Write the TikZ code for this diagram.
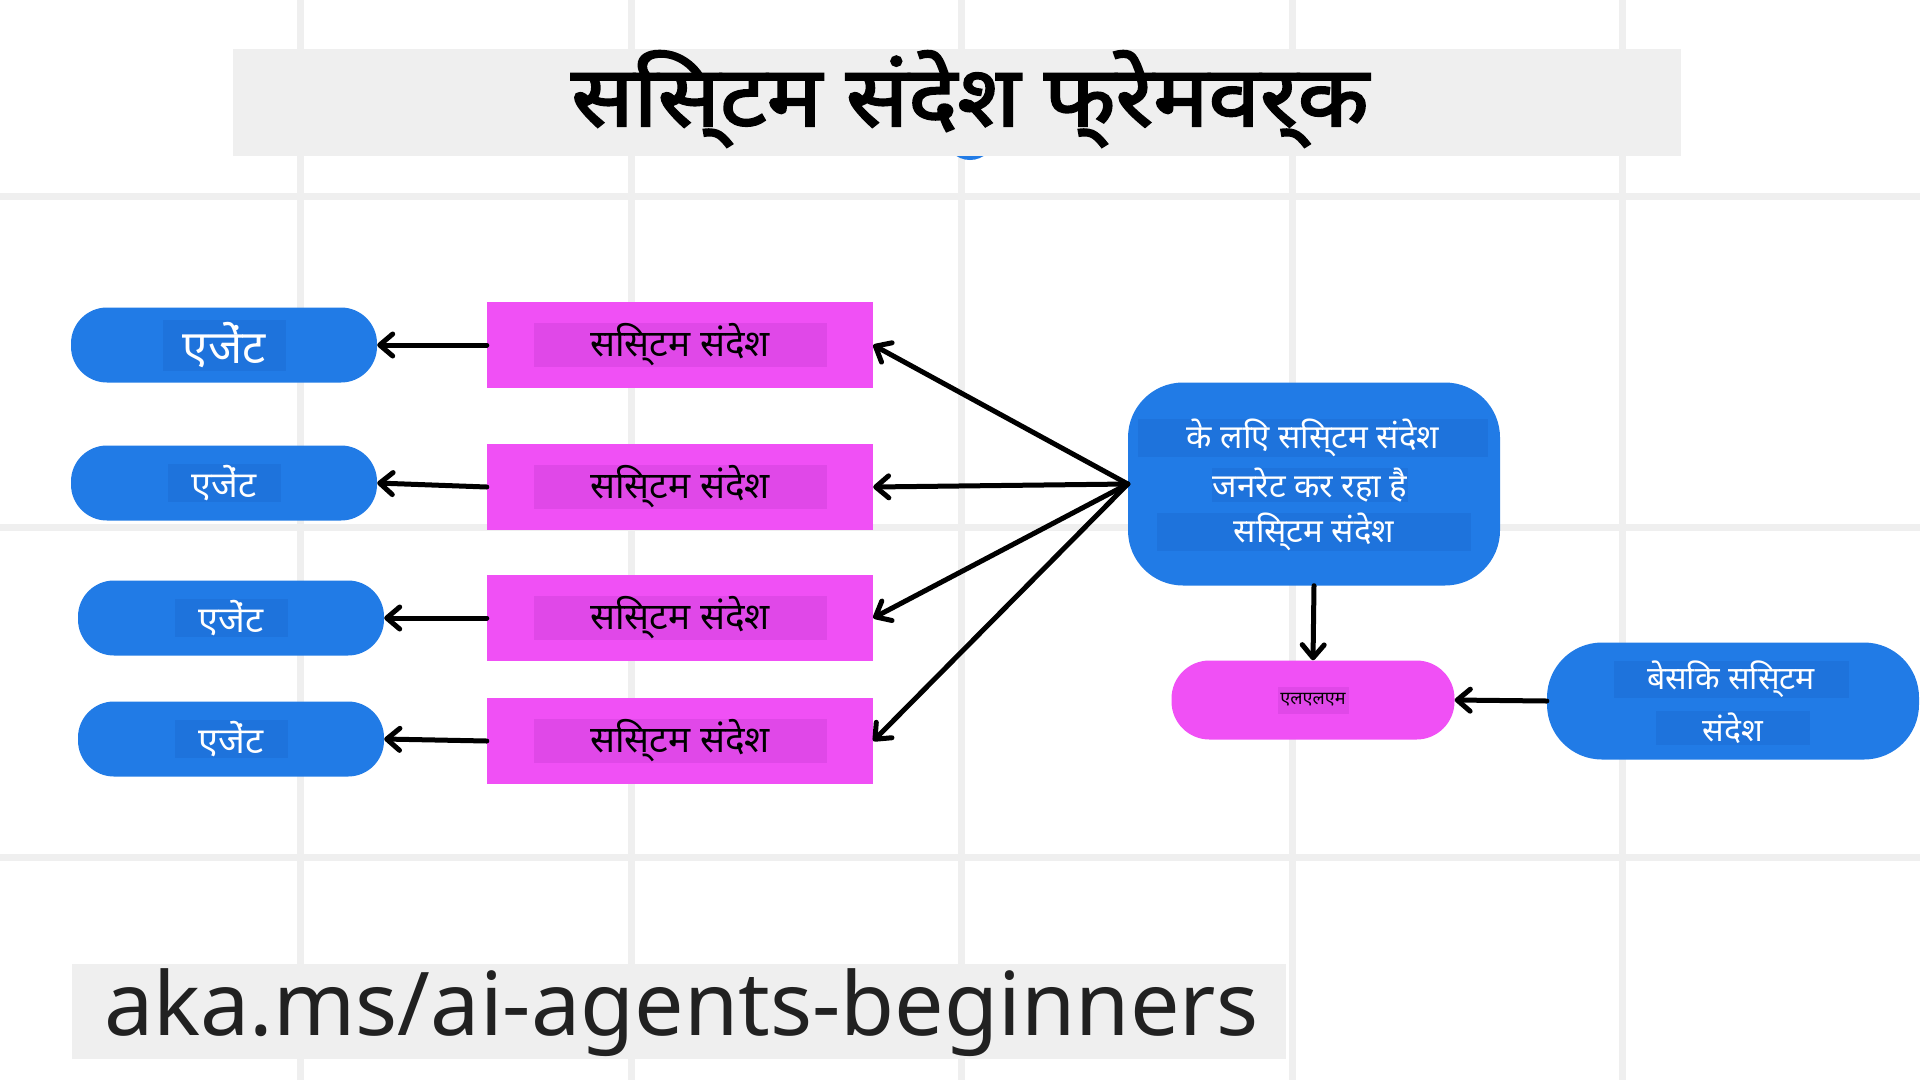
\documentclass[tikz,border=0pt]{standalone}
\usepackage{fontspec}
\setmainfont{Noto Sans}
\newfontfamily\hindi{Noto Sans}
\newfontfamily\hinditl[FakeBold=2.5,FakeStretch=1.1]{Noto Sans}
\usetikzlibrary{arrows.meta,positioning}
\definecolor{agentblue}{HTML}{217BE6}
\definecolor{lblblue}{HTML}{1E73DC}
\definecolor{msgpink}{HTML}{F050F5}
\definecolor{lblpink}{HTML}{E048E8}
\definecolor{gridgray}{HTML}{EFEFEF}
\tikzset{
  agent/.style={fill=agentblue, rounded corners=36pt, minimum width=306pt, minimum height=75pt},
  msgbox/.style={fill=msgpink, minimum width=386pt, minimum height=86pt},
  bluelbl/.style={fill=lblblue, text=white, font=\hindi\fontsize{36}{40}\selectfont, inner sep=0pt},
  pinklbl/.style={fill=lblpink, text=black, font=\hindi\fontsize{37}{42}\selectfont, inner sep=0pt},
  arr/.style={line width=5pt, line cap=round, -{Straight Barb[length=13pt,width=22pt,line width=5pt,round]}},
}
\begin{document}
\begin{tikzpicture}[x=1pt,y=-1pt]
		%%%%% START %%%%%
		\useasboundingbox (0,0) rectangle (1920,1080);
		\fill[white] (0,0) rectangle (1920,1080);
		
		% grid
		\foreach \gx in {300,631,961,1292,1622}
		  \draw[gridgray, line width=7pt] (\gx,0) -- (\gx,1080);
		\foreach \gy in {196,527,857}
		  \draw[gridgray, line width=7pt] (0,\gy) -- (1920,\gy);
		
		% title
		\fill[agentblue] (970,135) circle (25);
		\fill[gridgray] (233,49) rectangle (1681,156);
		\node[anchor=base, font=\hinditl\fontsize{84}{90}\selectfont] (title) at (970,126) {सिस्टम संदेश फ्रेमवर्क};
		
		% agents
		\node[agent] (ag1) at (224,345) {};
		\node[agent] (ag2) at (224,483) {};
		\node[agent] (ag3) at (231,618) {};
		\node[agent] (ag4) at (231,739) {};
		\node[bluelbl, minimum width=123pt, minimum height=51pt, font=\hindi\fontsize{46}{50}\selectfont] (ag1t) at (ag1) {एजेंट};
		\node[bluelbl, minimum width=113pt, minimum height=38pt] (ag2t) at (ag2) {एजेंट};
		\node[bluelbl, minimum width=113pt, minimum height=38pt] (ag3t) at (ag3) {एजेंट};
		\node[bluelbl, minimum width=113pt, minimum height=38pt] (ag4t) at (ag4) {एजेंट};
		
		% system messages
		\node[msgbox] (b1) at (680,345) {};
		\node[msgbox] (b2) at (680,487) {};
		\node[msgbox] (b3) at (680,618) {};
		\node[msgbox] (b4) at (680,741) {};
		\foreach \b in {b1,b2,b3,b4}
		  \node[pinklbl, minimum width=293pt, minimum height=44pt] (\b t) at (\b) {सिस्टम संदेश};
		
		% generator
		\node[fill=agentblue, rounded corners=55pt, minimum width=372pt, minimum height=203pt] (gen) at (1314,484) {};
		\node[bluelbl, minimum width=350pt, minimum height=37pt, font=\hindi\fontsize{33}{36}\selectfont] (gen1) at (1313,438) {के लिए सिस्टम संदेश};
		\node[bluelbl, minimum width=196pt, minimum height=34pt, font=\hindi\fontsize{33}{36}\selectfont] (gen2) at (1310,485) {जनरेट कर रहा है};
		\node[bluelbl, minimum width=314pt, minimum height=37pt, font=\hindi\fontsize{33}{36}\selectfont] (gen3) at (1314,532) {सिस्टम संदेश};
		
		% llm
		\node[fill=msgpink, rounded corners=38pt, minimum width=283pt, minimum height=79pt] (llm) at (1313,700) {};
		\node[pinklbl, minimum width=71pt, minimum height=27pt, font=\hindi\fontsize{18}{20}\selectfont] (llmt) at (llm) {एलएलएम};
		
		% basic
		\node[fill=agentblue, rounded corners=55pt, minimum width=372pt, minimum height=117pt] (basic) at (1733,701) {};
		\node[bluelbl, minimum width=235pt, minimum height=37pt, font=\hindi\fontsize{32}{36}\selectfont] (basic1) at (1731,679) {बेसिक सिस्टम};
		\node[bluelbl, minimum width=154pt, minimum height=34pt, font=\hindi\fontsize{32}{36}\selectfont] (basic2) at (1733,728) {संदेश};
		
		% arrows
		\foreach \i in {1,2,3,4}
		  \draw[arr] (b\i.west) -- (ag\i.east);
		\foreach \i in {1,2,3,4}
		  \draw[arr] (gen.west) -- (b\i.east);
		\draw[arr] (gen.south) -- (llm.north);
		\draw[arr] (basic.west) -- (llm.east);
		
		% footer
		\fill[gridgray] (72,964) rectangle (1286,1059);
		\node[anchor=base west, inner sep=0pt, text=black!87, font=\fontsize{88}{96}\selectfont] (url) at (104,1035) {aka.ms/ai-agents-beginners};
		%%%%% END %%%%%
\end{tikzpicture}
\end{document}
